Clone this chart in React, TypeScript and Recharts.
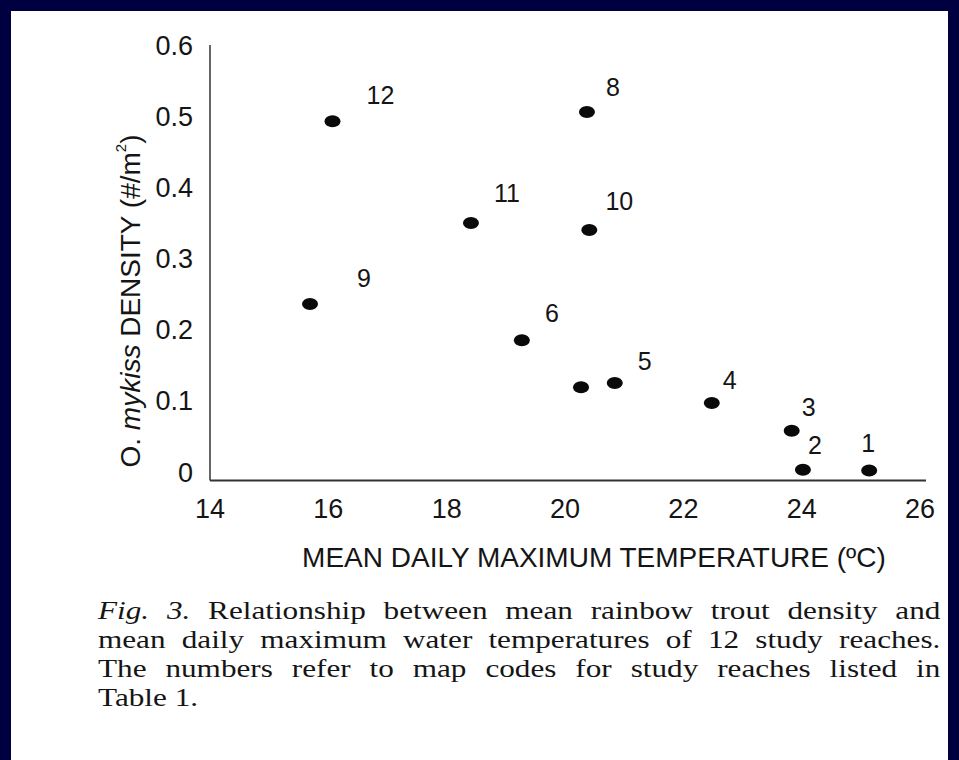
import React from 'react';
import { ScatterChart, Scatter, XAxis, YAxis } from 'recharts';

// ---- data ----
const reachLabels = ['1', '2', '3', '4', '5', '6', '', '8', '9', '10', '11', '12'];
const maxTemps = [25.14, 24.02, 23.83, 22.48, 20.84, 19.27, 20.27, 20.37, 15.69, 20.41, 18.41, 16.07];
const densities = [0.002, 0.003, 0.058, 0.097, 0.125, 0.185, 0.119, 0.506, 0.236, 0.34, 0.35, 0.493];
const xTicks = [14, 16, 18, 20, 22, 24, 26];
const yTicks = [0, 0.1, 0.2, 0.3, 0.4, 0.5, 0.6];

// label placement relative to each dot (style, not data)
const labelOffsets: Record<string, [number, number]> = {
  '1': [-1, -28],
  '2': [12, -25],
  '3': [17, -24],
  '4': [18, -23],
  '5': [30, -22],
  '6': [30, -27],
  '8': [26, -25],
  '9': [54, -26],
  '10': [30, -29],
  '11': [36, -30],
  '12': [48, -26],
};

const points = maxTemps.map((t, i) => ({ x: t, y: densities[i], label: reachLabels[i] }));

const SANS = '"Liberation Sans", Arial, sans-serif';
const SERIF = '"Liberation Serif", "Times New Roman", serif';
const INK = '#151515';

const Dot = (props: any) => {
  const { cx, cy, payload } = props;
  const off = labelOffsets[payload.label];
  return (
    <g>
      <ellipse cx={cx} cy={cy} rx={8} ry={6} fill="#0a0a0a" />
      {payload.label && off ? (
        <text
          x={cx + off[0]}
          y={cy + off[1]}
          textAnchor="middle"
          dominantBaseline="central"
          fontFamily={SANS}
          fontSize={25}
          fill={INK}
        >
          {payload.label}
        </text>
      ) : null}
    </g>
  );
};

const YTitle = () => (
  <text
    x={130}
    y={301}
    transform="rotate(-90, 130, 301)"
    textAnchor="middle"
    dominantBaseline="central"
    fontFamily={SANS}
    fontSize={28}
    fill={INK}
  >
    <tspan>O. </tspan>
    <tspan fontStyle="italic">mykiss</tspan>
    <tspan> DENSITY (#/m</tspan>
    <tspan fontSize={15} dy={-10}>2</tspan>
    <tspan dy={10}>)</tspan>
  </text>
);

export default function App() {
  return (
    <div
      style={{
        position: 'absolute',
        left: 0,
        top: 0,
        width: 959,
        height: 760,
        background: '#000040',
        overflow: 'hidden',
      }}
    >
      <div
        style={{
          position: 'absolute',
          left: 11,
          top: 11,
          width: 937,
          height: 749,
          background: '#ffffff',
        }}
      />
      <div style={{ position: 'absolute', left: 0, top: 0 }}>
        <ScatterChart
          width={959}
          height={760}
          margin={{ top: 45, left: 150, right: 33, bottom: 239.5 }}
        >
          <XAxis
            type="number"
            dataKey="x"
            domain={[14, 26.1]}
            ticks={xTicks}
            allowDataOverflow
            height={40}
            tickSize={0}
            tickMargin={18}
            axisLine={{ stroke: '#333', strokeWidth: 2 }}
            tickLine={false}
            tick={{ fill: INK, fontSize: 27, fontFamily: SANS }}
            label={{
              value: 'MEAN DAILY MAXIMUM TEMPERATURE (ºC)',
              position: 'insideBottom',
              content: () => (
                <text
                  x={594}
                  y={557}
                  textAnchor="middle"
                  dominantBaseline="central"
                  fontFamily={SANS}
                  fontSize={28}
                  fill={INK}
                >
                  MEAN DAILY MAXIMUM TEMPERATURE (ºC)
                </text>
              ),
            }}
          />
          <YAxis
            type="number"
            dataKey="y"
            domain={[-0.012, 0.6]}
            ticks={yTicks}
            allowDataOverflow
            width={60}
            tickSize={0}
            tickMargin={17}
            axisLine={{ stroke: '#333', strokeWidth: 1.5 }}
            tickLine={false}
            tickFormatter={(v: number) => (v === 0 ? '0' : v.toFixed(1))}
            tick={{ fill: INK, fontSize: 27, fontFamily: SANS }}
            label={{ content: () => <YTitle /> }}
          />
          <Scatter data={points} shape={Dot} isAnimationActive={false} />
        </ScatterChart>
      </div>
      <div
        style={{
          position: 'absolute',
          left: 98,
          top: 596,
          width: 702,
          transform: 'scaleX(1.2)',
          transformOrigin: '0 0',
          fontFamily: SERIF,
          fontSize: 26,
          lineHeight: '29px',
          color: INK,
        }}
      >
        {[
          <>
            <i>Fig. 3.</i> Relationship between mean rainbow trout density and
          </>,
          <>mean daily maximum water temperatures of 12 study reaches.</>,
          <>The numbers refer to map codes for study reaches listed in</>,
        ].map((line, i) => (
          <div key={i} style={{ textAlign: 'justify', textAlignLast: 'justify', whiteSpace: 'nowrap' }}>
            {line}
          </div>
        ))}
        <div>Table 1.</div>
      </div>
    </div>
  );
}
